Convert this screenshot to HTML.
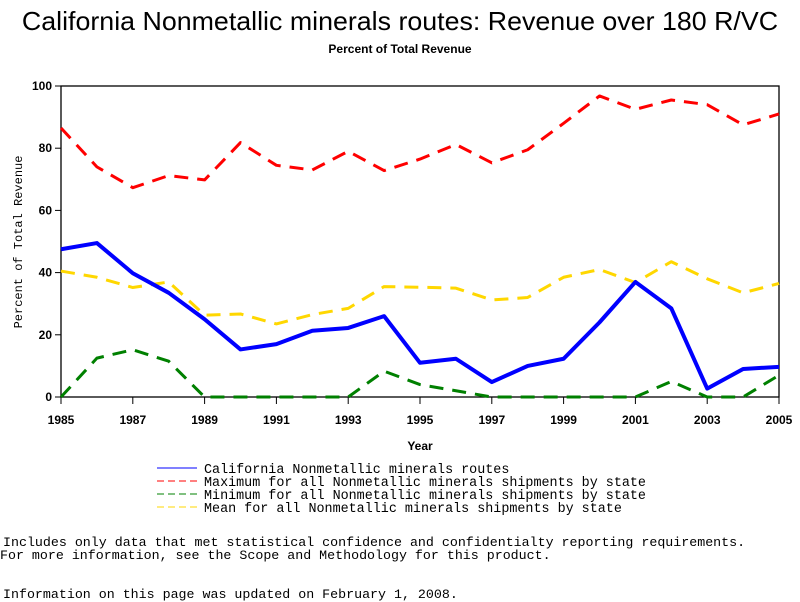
<!DOCTYPE html>
<html><head><meta charset="utf-8"><style>
body{margin:0;background:#fff;width:800px;height:600px;overflow:hidden;position:relative}
.t{position:absolute;white-space:pre;color:#000}
.mono{font-family:"Liberation Mono",monospace}
</style></head><body>
<div class="t" style="left:0;width:800px;text-align:center;top:6px;font:26px 'Liberation Sans',sans-serif;transform:scaleX(1.03)">California Nonmetallic minerals routes: Revenue over 180 R/VC</div>
<div class="t" style="left:0;width:800px;text-align:center;top:42px;font:bold 12px 'Liberation Sans',sans-serif">Percent of Total Revenue</div>
<svg id="chart" width="800" height="600" style="position:absolute;left:0;top:0"></svg>
<div class="t mono" style="left:3px;top:535px;font-size:13.3px">Includes only data that met statistical confidence and confidentialty reporting requirements.</div>
<div class="t mono" style="left:0px;top:548px;font-size:13.3px">For more information, see the Scope and Methodology for this product.</div>
<div class="t mono" style="left:3px;top:587px;font-size:13.3px">Information on this page was updated on February 1, 2008.</div>
<script>
const years=[1985,1986,1987,1988,1989,1990,1991,1992,1993,1994,1995,1996,1997,1998,1999,2000,2001,2002,2003,2004,2005];
const caValues=[47.5,49.5,39.8,33.5,25,15.3,17,21.3,22.2,26,11,12.3,4.8,10,12.3,24,37,28.5,2.7,9,9.7];
const maxValues=[86.5,74,67.3,71.2,69.8,81.8,74.5,73,79,72.8,76.5,81.2,75.3,79.5,88,96.8,92.5,95.5,94,87.5,91];
const minValues=[0,12.5,15.2,11.5,0,0,0,0,0,8.3,4,2,0,0,0,0,0,5,0,0,7];
const meanValues=[40.5,38.5,35.2,37,26.3,26.7,23.5,26.5,28.5,35.5,35.3,35,31.2,32,38.5,41,36.8,43.5,38,33.5,36.5];
const yTicks=[0,20,40,60,80,100];
const xTicks=[1985,1987,1989,1991,1993,1995,1997,1999,2001,2003,2005];
const legendLabels=["California Nonmetallic minerals routes","Maximum for all Nonmetallic minerals shipments by state","Minimum for all Nonmetallic minerals shipments by state","Mean for all Nonmetallic minerals shipments by state"];

const svg=document.getElementById('chart');const NS='http://www.w3.org/2000/svg';
const L=61,R=779,T=86,B=397;
const x=v=>L+(v-1985)/20*(R-L);
const y=v=>B-v/100*(B-T);
function mk(tag,attrs,parent){const e=document.createElementNS(NS,tag);for(const k in attrs)e.setAttribute(k,attrs[k]);(parent||svg).appendChild(e);return e;}
let e=mk('rect',{x:L,y:T,width:R-L,height:B-T,fill:'none',stroke:'#000','stroke-width':1.3});


yTicks.forEach(v=>{
 let tk=mk('line',{x1:L-6,x2:L,y1:y(v),y2:y(v),stroke:'#000'});
 
 
 let t=mk('text',{x:L-9,y:y(v)+4,'text-anchor':'end','font-family':'Liberation Sans,sans-serif','font-weight':'bold','font-size':12});
 t.textContent=v;
 
 
});
xTicks.forEach(v=>{
 let tk=mk('line',{x1:x(v),x2:x(v),y1:B,y2:B+7,stroke:'#000'});
 
 
 let t=mk('text',{x:x(v),y:B+27,'text-anchor':'middle','font-family':'Liberation Sans,sans-serif','font-weight':'bold','font-size':12});
 t.textContent=v;
 
 
});
let xt=mk('text',{x:420,y:450,'text-anchor':'middle','font-family':'Liberation Sans,sans-serif','font-weight':'bold','font-size':12});
xt.textContent='Year';


let yt=mk('text',{x:22,y:242,'text-anchor':'middle','font-family':'Liberation Mono,monospace','font-size':12,transform:'rotate(-90 22 242)'});
yt.textContent='Percent of Total Revenue';


const series=[
 {vals:maxValues,color:'#ff0000',dash:'14 9',w:3,name:'max-line'},
 {vals:meanValues,color:'#ffd700',dash:'14 9',w:3,name:'mean-line'},
 {vals:minValues,color:'#008000',dash:'14 9',w:3,name:'min-line'},
 {vals:caValues,color:'#0000ff',dash:'',w:4,name:'california-line'}
];
series.forEach(s=>{
 const p=mk('polyline',{points:s.vals.map((v,i)=>x(years[i])+','+y(v)).join(' '),fill:'none',stroke:s.color,'stroke-width':s.w,'stroke-dasharray':s.dash,'stroke-linejoin':'round'});
 
 
});
const legColors=['#0000ff','#ff0000','#008000','#ffd700'];
legendLabels.forEach((lab,i)=>{
 const ly=468+i*13;
 const ln=mk('line',{x1:157,x2:197,y1:ly,y2:ly,stroke:legColors[i],'stroke-width':1,'stroke-dasharray':i?'7 4':''});
 
 
 const t=mk('text',{x:204,y:ly+5,'font-family':'Liberation Mono,monospace','font-size':13.4});
 t.textContent=lab;
 
 
});
</script>
</body></html>
